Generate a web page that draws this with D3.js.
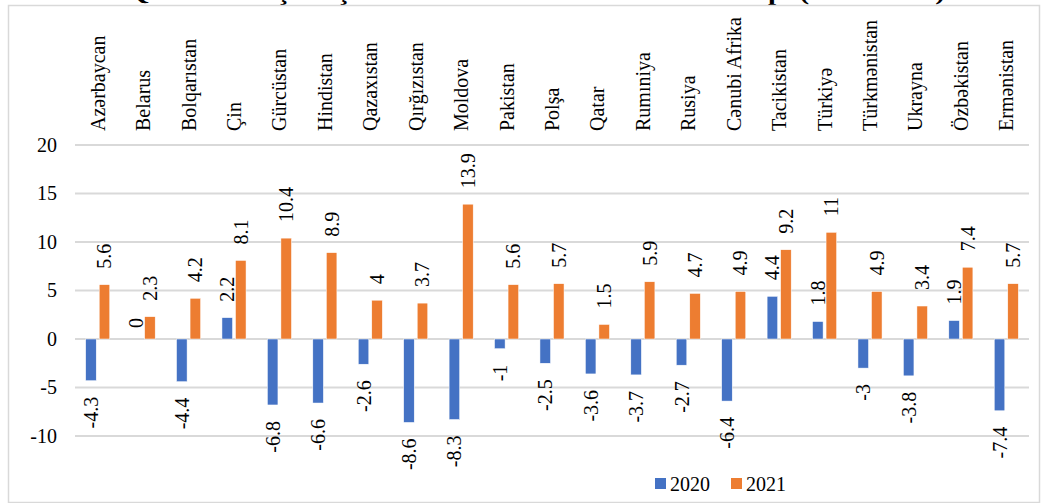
<!DOCTYPE html>
<html><head><meta charset="utf-8">
<script src="https://cdn.jsdelivr.net/npm/d3@7"></script>
<style>body{margin:0;background:#fff}svg{display:block}text{font-family:'Liberation Serif','Times New Roman',serif}</style>
</head><body>
<svg id="c" width="1045" height="503"></svg>
<script>
const categories = ["Azərbaycan","Belarus","Bolqarıstan","Çin","Gürcüstan","Hindistan","Qazaxıstan","Qırğızıstan","Moldova","Pakistan","Polşa","Qatar","Rumıniya","Rusiya","Cənubi Afrika","Tacikistan","Türkiyə","Türkmənistan","Ukrayna","Özbəkistan","Ermənistan"];
const values2020 = [-4.3,0,-4.4,2.2,-6.8,-6.6,-2.6,-8.6,-8.3,-1,-2.5,-3.6,-3.7,-2.7,-6.4,4.4,1.8,-3,-3.8,1.9,-7.4];
const values2021 = [5.6,2.3,4.2,8.1,10.4,8.9,4,3.7,13.9,5.6,5.7,1.5,5.9,4.7,4.9,9.2,11,4.9,3.4,7.4,5.7];
const seriesNames = ["2020","2021"];
const seriesColors = ["#4472C4","#ED7D31"];
const yTicks = [-10,-5,0,5,10,15,20];
const titleText = "Qrafik 3. Seçilmiş ölkələrdə ÜDM-in real artım tempi (2020-2021)";

const svg = d3.select("#c");
const font = "'Liberation Serif','Times New Roman',serif";

// title (cut off at top like the reference)
svg.append("text").attr("x",127).attr("y",0).attr("textLength",818).attr("lengthAdjust","spacingAndGlyphs")
  .attr("font-family",font).attr("font-weight","bold").attr("font-size",20).attr("fill","#000").text(titleText);

// frame
svg.append("rect").attr("x",8.5).attr("y",5.5).attr("width",1031).attr("height",497)
  .attr("fill","none").attr("stroke","#d9d9d9").attr("stroke-width",1.5);

const x0 = d3.scaleBand().domain(categories).range([75,1029]).paddingInner(0.47).paddingOuter(0.235);
const x1 = d3.scaleBand().domain(seriesNames).range([0,x0.bandwidth()]).paddingInner(0.22);
const y = d3.scaleLinear().domain([-10,20]).range([436,145]);

// gridlines
svg.append("g").selectAll("line").data(yTicks).join("line")
  .attr("x1",75).attr("x2",1029).attr("y1",d=>y(d)).attr("y2",d=>y(d))
  .attr("stroke","#d9d9d9").attr("stroke-width",2);

// y axis labels
const yAxis = d3.axisLeft(y).tickValues(yTicks).tickSize(0).tickPadding(0).tickFormat(d=>String(d));
const ya = svg.append("g").attr("transform","translate(57,0)").call(yAxis);
ya.select(".domain").remove();
ya.attr("font-family",font);
ya.selectAll("text").attr("font-family",font).attr("font-size",20).attr("fill","#000");

// category labels
svg.append("g").selectAll("text").data(categories).join("text")
  .attr("transform",d=>`translate(${x0(d)+x0.bandwidth()/2},131) rotate(-90)`)
  .attr("dominant-baseline","central").attr("text-anchor","start")
  .attr("font-family",font).attr("font-size",20).attr("fill","#000").text(d=>d);

const data = categories.map((c,i)=>({c, vals:[{s:"2020",v:values2020[i]},{s:"2021",v:values2021[i]}]}));

const g = svg.append("g").selectAll("g").data(data).join("g").attr("transform",d=>`translate(${x0(d.c)},0)`);
g.selectAll("rect").data(d=>d.vals).join("rect")
  .attr("x",d=>x1(d.s)).attr("width",x1.bandwidth())
  .attr("y",d=>y(Math.max(0,d.v))).attr("height",d=>Math.abs(y(d.v)-y(0)))
  .attr("fill",d=>seriesColors[seriesNames.indexOf(d.s)])
  .attr("stroke","#fff").attr("stroke-width",0.5);

g.selectAll("text").data(d=>d.vals).join("text")
  .attr("transform",d=>{
    const cx = x1(d.s)+x1.bandwidth()/2;
    const yy = d.v>=0 ? (d.v===0 ? y(0)-11 : y(d.v)-16) : y(d.v)+16;
    return `translate(${cx},${yy}) rotate(-90)`;
  })
  .attr("dominant-baseline","central")
  .attr("text-anchor",d=>d.v>=0?"start":"end")
  .attr("font-family",font).attr("font-size",20).attr("fill","#000")
  .text(d=>String(d.v));

// legend
const lg = svg.append("g");
const lx = [655,731];
seriesNames.forEach((s,i)=>{
  lg.append("rect").attr("x",lx[i]).attr("y",478).attr("width",11).attr("height",11).attr("fill",seriesColors[i]);
  lg.append("text").attr("x",lx[i]+15).attr("y",491).attr("font-family",font).attr("font-size",20).attr("fill","#000").text(s);
});
</script>
</body></html>
